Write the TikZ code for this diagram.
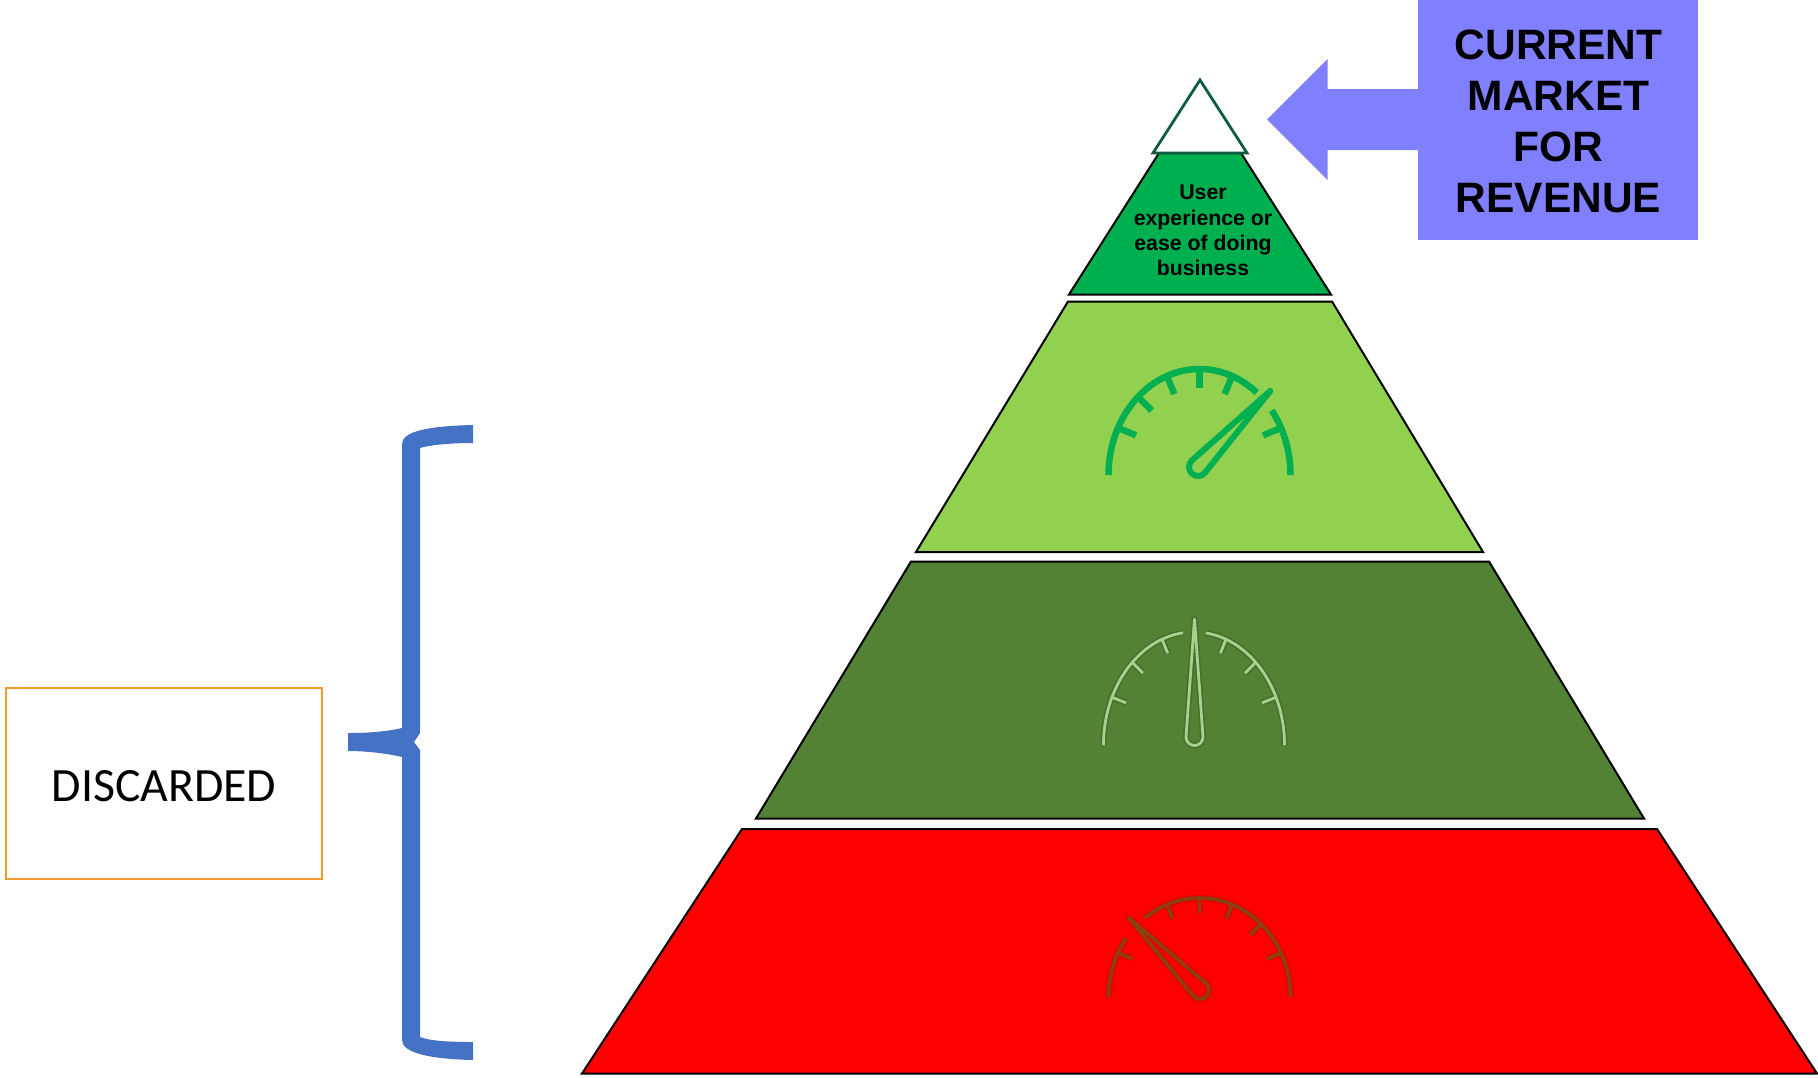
\documentclass[tikz,border=0pt]{standalone}
\usepackage{fontspec}
\setmainfont{Liberation Sans}
\newfontfamily\calibrilike{Carlito}
\definecolor{tipgreen}{HTML}{00B050}
\definecolor{lightgreen}{HTML}{92D050}
\definecolor{darkgreen}{HTML}{548235}
\definecolor{palegreen}{HTML}{A9D18E}
\definecolor{halogreen}{HTML}{44702B}
\definecolor{brownline}{HTML}{8A4010}
\definecolor{halored}{HTML}{E80000}
\definecolor{tipedge}{HTML}{0F5C45}
\definecolor{marketblue}{HTML}{8080FF}
\definecolor{bracecol}{HTML}{4472C4}
\definecolor{discardorange}{HTML}{F79A2E}
\tikzset{
  layer/.style={draw=black,line width=2pt,line join=miter},
  marketlabel/.style={align=center,font=\fontsize{42.5}{51}\selectfont\bfseries,inner sep=0pt},
  tiplabel/.style={align=center,font=\fontsize{21.3}{25.3}\selectfont\bfseries,inner sep=0pt},
  discardbox/.style={draw=discardorange,line width=2.6pt,fill=white,minimum width=316pt,minimum height=191pt,inner sep=0pt,font=\calibrilike\fontsize{47.8}{52}\selectfont},
  gaugeA/.style={draw=tipgreen,line width=6.5pt,line join=round},
  haloB/.style={draw=halogreen,line width=6pt,line join=round},
  lineB/.style={draw=palegreen,line width=2.8pt,line join=round},
  haloC/.style={draw=halored,line width=7pt,line join=round},
  lineC/.style={draw=brownline,line width=3.6pt,line join=round},
}
% rx, left arc end, right arc end, list of param/dir, tick length, y stretch, style
\newcommand{\gaugeshape}[7]{%
  \draw[#7] (-#1,0) arc[start angle=180,end angle=#2,radius=#1];
  \draw[#7] (#1,0) arc[start angle=0,end angle=#3,radius=#1];
  \foreach \a/\d in {#4} \draw[#7] (\a:#1) -- ++({#5*cos(\d+180)},{#5*sin(\d+180)/#6});
}
% angle, length, radius, x offset, y offset, style
\newcommand{\needleshape}[6]{%
  \begin{scope}[shift={(#4,#5)},rotate=#1]
    \draw[#6] (#2,0) -- (0,#3) arc[start angle=90,end angle=270,radius=#3] -- cycle;
  \end{scope}
}
\begin{document}
\begin{tikzpicture}[x=1pt,y=-1pt]
\useasboundingbox (0,0) rectangle (1818,1077);
% pyramid layers
\draw[layer,fill=red] (742,829) -- (1657,829) -- (1817,1073.5) -- (582,1073.5) -- cycle;
\draw[layer,fill=darkgreen] (911,561.5) -- (1489,561.5) -- (1644,818.5) -- (756,818.5) -- cycle;
\draw[layer,fill=lightgreen] (1068,301.5) -- (1332,301.5) -- (1483,552) -- (916,552) -- cycle;
\draw[layer,fill=tipgreen] (1159,153) -- (1241,153) -- (1331,294.5) -- (1069,294.5) -- cycle;
\draw[draw=tipedge,line width=2.8pt,fill=white] (1200,80) -- (1247,153) -- (1153,153) -- cycle;
\node[tiplabel] (tiptext) at (1203,230.5) {User\\experience or\\ease of doing\\business};
% market box and arrow
\fill[marketblue] (1418,0) rectangle (1698,240);
\fill[marketblue] (1267,119.5) -- (1327.5,59) -- (1327.5,89) -- (1418,89) -- (1418,150) -- (1327.5,150) -- (1327.5,180) -- cycle;
\node[marketlabel] (market) at (1558.5,121) {CURRENT\\MARKET\\FOR\\REVENUE};
% gauge on light green
\begin{scope}[shift={(1199.5,475)},y=1pt,yscale=1.165]
  \gaugeshape{91}{51}{37.5}{153.6/157.5,132.5/135,111/112.5,90/90,69/67.5,26.4/22.5}{19.5}{1.165}{gaugeA}
\end{scope}
\begin{scope}[shift={(1199.5,475)},y=1pt]
  \needleshape{46.5}{105}{9}{-1.5}{8}{gaugeA,line width=6pt}
\end{scope}
% gauge on dark green
\begin{scope}[shift={(1194,745)},y=1pt,yscale=1.249]
  \gaugeshape{90.5}{97}{82.4}{155/158,133/135,110.7/112,69.3/68,47/45,25/22}{15}{1.249}{haloB}
\end{scope}
\begin{scope}[shift={(1194,745)},y=1pt]
  \needleshape{90}{118}{8.5}{0.5}{8}{haloB}
\end{scope}
\begin{scope}[shift={(1194,745)},y=1pt,yscale=1.249]
  \gaugeshape{90.5}{97}{82.4}{155/158,133/135,110.7/112,69.3/68,47/45,25/22}{15}{1.249}{lineB}
\end{scope}
\begin{scope}[shift={(1194,745)},y=1pt]
  \needleshape{90}{118}{8.5}{0.5}{8}{lineB}
\end{scope}
% gauge on red
\begin{scope}[shift={(1199.5,997)},y=1pt,yscale=1.088]
  \gaugeshape{91}{143.9}{126.8}{153.6/158,111/112.5,90/90,69/67.5,47.5/45,26.4/22.5}{15}{1.088}{haloC}
\end{scope}
\begin{scope}[shift={(1199.5,997)},y=1pt]
  \needleshape{134.6}{102}{9}{0.5}{7}{haloC}
\end{scope}
\begin{scope}[shift={(1199.5,997)},y=1pt,yscale=1.088]
  \gaugeshape{91}{143.9}{126.8}{153.6/158,111/112.5,90/90,69/67.5,47.5/45,26.4/22.5}{15}{1.088}{lineC}
\end{scope}
\begin{scope}[shift={(1199.5,997)},y=1pt]
  \needleshape{134.6}{102}{9}{0.5}{7}{lineC}
\end{scope}
% brace
\fill[bracecol] (473,425) .. controls (430,426) and (402,431) .. (402,444)
  -- (402,728) .. controls (385,732) and (365,733) .. (348,733)
  -- (348,751) .. controls (365,751) and (385,753) .. (402,757)
  -- (402,1040) .. controls (402,1053) and (430,1059) .. (473,1060)
  -- (473,1042) .. controls (450,1042) and (430,1041) .. (420,1037)
  -- (420,750) -- (414,742) -- (420,733)
  -- (420,448) .. controls (430,445) and (450,443) .. (473,443) -- cycle;
% discarded box
\node[discardbox] (discarded) at (164,783.5) {\raisebox{-2.2pt}[\height][\depth]{DISCARDED}};
\end{tikzpicture}
\end{document}
